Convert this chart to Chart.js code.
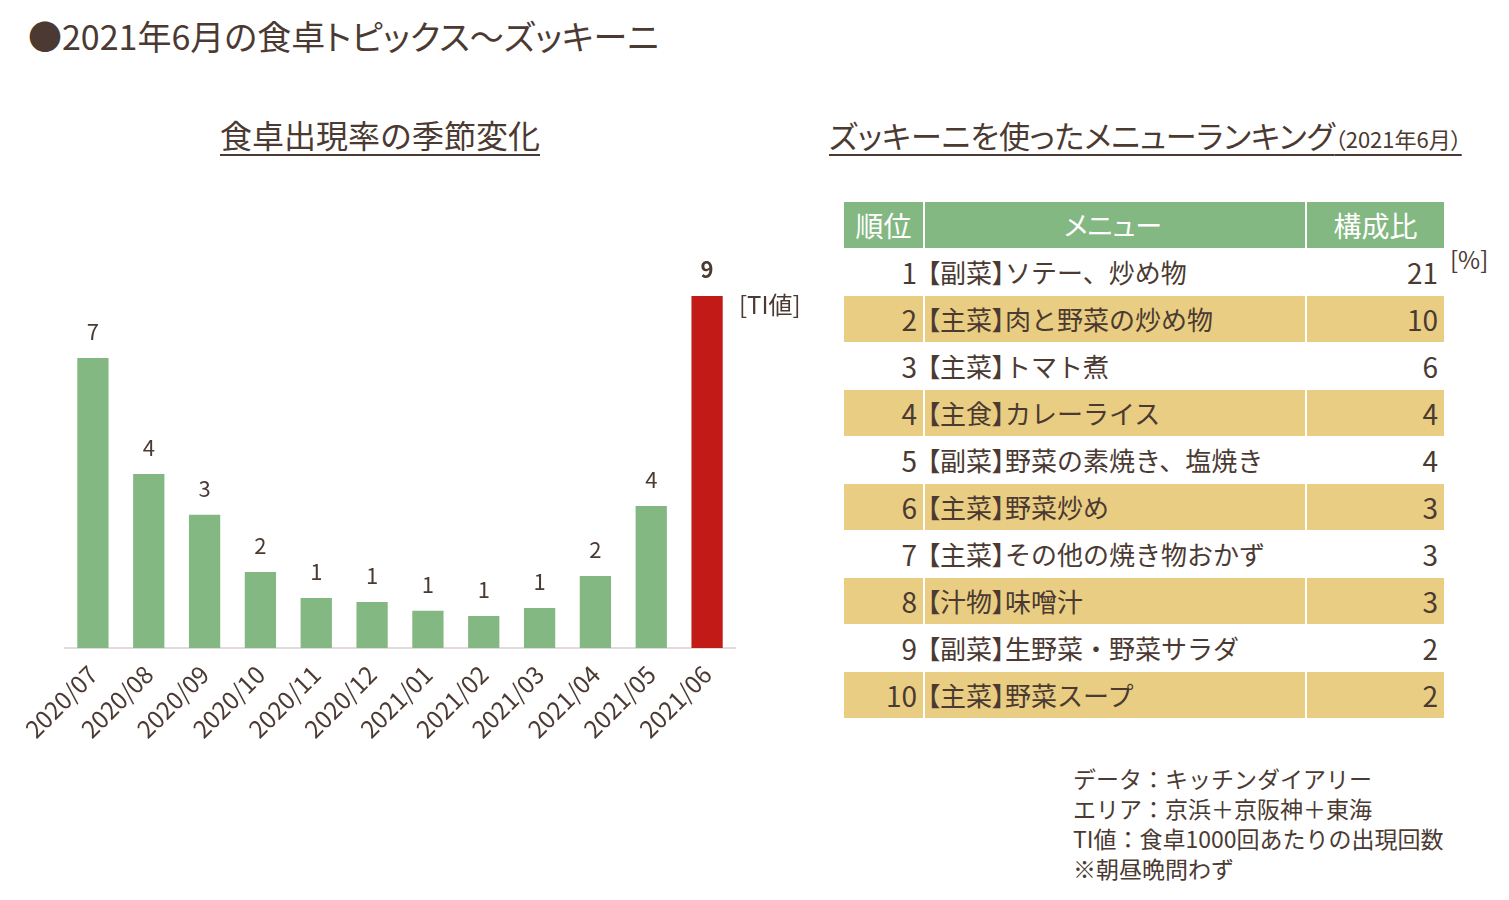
<!DOCTYPE html>
<html lang="ja">
<head>
<meta charset="UTF-8">
<title>2021年6月の食卓トピックス～ズッキーニ</title>
<script src="https://cdn.jsdelivr.net/npm/chart.js@4"></script>
<style>
  body { margin: 0; width: 1509px; height: 900px; background: #fff; position: relative; overflow: hidden;
         font-family: "Noto Sans CJK JP", "Noto Sans", sans-serif; color: #4b3a32; }
  .abs { position: absolute; white-space: nowrap; }
  .palt { font-feature-settings: "palt"; }
  #mainTitle { left: 28px; top: 12px; font-size: 34px; line-height: 48px; }
  .sub { font-size: 32px; line-height: 40px; text-decoration: underline; text-decoration-thickness: 2px; text-underline-offset: 6px; }
  #leftTitle { left: 220px; top: 114px; }
  #rightTitle { left: 829px; top: 114px; }
  #rightTitle span { font-size: 31px; }
  #rightTitle small { font-size: 22px; }
  #chartBox { position: absolute; left: 0; top: 200px; width: 800px; height: 560px; }
  #tiUnit { left: 739px; top: 286px; font-size: 24px; }
  #pctUnit { left: 1450px; top: 241px; font-size: 24px; }
  table { position: absolute; left: 844px; top: 202px; border-collapse: collapse; font-size: 26px; }
  td, th { padding: 0 6px; height: 46px; line-height: 46px; }
  th { background: #83b882; color: #fff; font-weight: normal; height: 45px; border-left: 2px solid #fff; font-size: 27px; font-feature-settings: "palt"; }
  th:first-child { border-left: none; }
  tr.alt td { background: #e9cd82; }
  td { border-left: 2px solid #fff; border-top: 1px solid #fff; }
  td:first-child { border-left: none; }
  .rank { width: 67px; text-align: right; font-size: 28px; }
  .menu { width: 372px; text-align: left; padding-left: 2px; }
  .val { width: 125px; text-align: right; font-size: 28px; }
  #notes { left: 1073px; top: 763px; font-size: 23px; line-height: 30px; white-space: pre; }
</style>
</head>
<body>
<div id="mainTitle" class="abs palt">●2021年6月の食卓トピックス～ズッキーニ</div>
<div id="leftTitle" class="abs sub">食卓出現率の季節変化</div>
<div id="rightTitle" class="abs sub palt"><span>ズッキーニを使ったメニューランキング</span><small>（2021年6月）</small></div>
<div id="chartBox"><canvas id="tiChart"></canvas></div>
<div id="tiUnit" class="abs">[TI値]</div>
<div id="pctUnit" class="abs">[%]</div>
<table id="rankTable">
  <thead><tr><th class="rank" style="text-align:center">順位</th><th class="menu" style="text-align:center">メニュー</th><th class="val" style="text-align:center">構成比</th></tr></thead>
  <tbody></tbody>
</table>
<div id="notes" class="abs">データ：キッチンダイアリー
エリア：京浜＋京阪神＋東海
TI値：食卓1000回あたりの出現回数
※朝昼晩問わず</div>
<script>
const months = ['2020/07','2020/08','2020/09','2020/10','2020/11','2020/12','2021/01','2021/02','2021/03','2021/04','2021/05','2021/06'];
const tiValues = [7.25, 4.35, 3.33, 1.9, 1.25, 1.15, 0.93, 0.8, 1.0, 1.8, 3.55, 8.8];

const ranks = [1, 2, 3, 4, 5, 6, 7, 8, 9, 10];
const menus = ['【副菜】ソテー、炒め物','【主菜】肉と野菜の炒め物','【主菜】トマト煮','【主食】カレーライス','【副菜】野菜の素焼き、塩焼き','【主菜】野菜炒め','【主菜】その他の焼き物おかず','【汁物】味噌汁','【副菜】生野菜・野菜サラダ','【主菜】野菜スープ'];
const shares = [21, 10, 6, 4, 4, 3, 3, 3, 2, 2];

const TEXT = '#4b3a32';
const FONT = '"Noto Sans CJK JP", "Noto Sans", sans-serif';

// ranking table (category brackets set tight, rest full width)
const tbody = document.querySelector('#rankTable tbody');
ranks.forEach((r, i) => {
  const tr = document.createElement('tr');
  if (i % 2 === 1) tr.className = 'alt';
  const menuHtml = menus[i].replace(/(【[^】]*】)/, '<span class="palt">$1</span>');
  tr.innerHTML = `<td class="rank">${r}</td><td class="menu">${menuHtml}</td><td class="val">${shares[i]}</td>`;
  tbody.appendChild(tr);
});

// value labels over bars
const barLabels = {
  id: 'barLabels',
  afterDatasetsDraw(chart) {
    const ctx = chart.ctx;
    const meta = chart.getDatasetMeta(0);
    ctx.save();
    ctx.fillStyle = TEXT;
    ctx.textAlign = 'center';
    ctx.textBaseline = 'middle';
    meta.data.forEach((bar, i) => {
      const last = i === tiValues.length - 1;
      ctx.font = (last ? 'bold ' : '') + '22px ' + FONT;
      ctx.fillText(Math.round(tiValues[i]), bar.x, bar.y - 26);
    });
    ctx.restore();
  }
};

new Chart(document.getElementById('tiChart'), {
  type: 'bar',
  data: {
    labels: months,
    datasets: [{
      data: tiValues,
      backgroundColor: tiValues.map((v, i) => i === tiValues.length - 1 ? '#c21a17' : '#83b882'),
      barPercentage: 0.56,
      categoryPercentage: 1.0
    }]
  },
  options: {
    responsive: true,
    maintainAspectRatio: false,
    animation: false,
    layout: { padding: { left: 65, right: 65, top: 48, bottom: 0 } },
    plugins: { legend: { display: false }, tooltip: { enabled: false } },
    scales: {
      x: {
        grid: { display: true, drawOnChartArea: false, drawTicks: false },
        border: { display: true, color: '#e3dbd9', width: 2 },
        ticks: { color: TEXT, font: { family: FONT, size: 24 }, minRotation: 45, maxRotation: 45, padding: 12, autoSkip: false },
        afterFit(scale) { scale.height = 112; scale.paddingLeft = 0; scale.paddingRight = 0; }
      },
      y: { display: false, min: 0, max: 10 }
    }
  },
  plugins: [barLabels]
});
</script>
</body>
</html>
